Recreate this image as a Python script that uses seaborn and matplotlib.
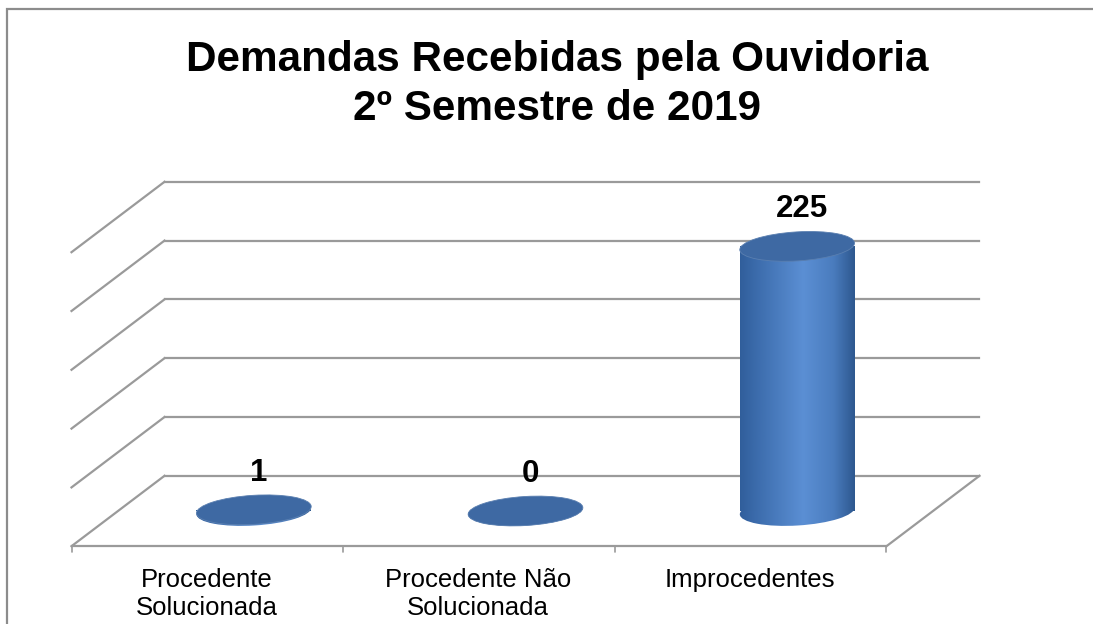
import numpy as np
import pandas as pd
import matplotlib
matplotlib.use("Agg")
import matplotlib.pyplot as plt
import matplotlib.transforms as mtransforms
from matplotlib.colors import LinearSegmentedColormap
from matplotlib.patches import Ellipse, Rectangle
import seaborn as sns

# data
categories = ["Procedente\nSolucionada", "Procedente Não\nSolucionada", "Improcedentes"]
values = [1, 0, 225]
value_labels = ["1", "0", "225"]
grid_values = [0, 50, 100, 150, 200, 250]
title = "Demandas Recebidas pela Ouvidoria\n2º Semestre de 2019"

W, H, DPI = 1093, 624, 100
DX, DY = 46.5, 35.2          # half depth of the 3d box, pixels
bar_width = 0.423
ell_h = 29                   # ellipse height, pixels
tilt = 3.5
grid_color = "#9a9a9a"

sns.set_theme(style="white")
plt.rcParams["font.family"] = ["Liberation Sans", "DejaVu Sans"]
plt.rcParams["text.color"] = "black"

fig = plt.figure(figsize=(W / DPI, H / DPI), dpi=DPI)
fig.patch.set_facecolor("white")

# chart frame (only top and left edges are inside the picture)
fig.add_artist(Rectangle((7 / W, -0.05), 1.1, (H - 9) / H + 0.05, transform=fig.transFigure,
                         fill=False, edgecolor="#8c8c8c", lw=1.6))

fig.text(557 / W, (H - 40) / H, title, ha="center", va="top", fontsize=30.4,
         fontweight="bold", linespacing=1.3, color="black")

# axes = middle depth plane of the 3d box
y_lo = -30
ppu = 294 / 250
ax = fig.add_axes([118 / W, (H - 511 - 30 * ppu) / H, 815 / W, (294 + 30 * ppu) / H])

df = pd.DataFrame({"categoria": categories, "demandas": values})
sns.barplot(data=df, x="categoria", y="demandas", width=bar_width, color="#3d6aa8",
            ax=ax, zorder=3)
ax.set_xlim(-0.5, 2.5)
ax.set_ylim(y_lo, 250)
ax.axis("off")

back = ax.transData + mtransforms.ScaledTranslation(DX / DPI, DY / DPI, fig.dpi_scale_trans)
front = ax.transData + mtransforms.ScaledTranslation(-DX / DPI, -DY / DPI, fig.dpi_scale_trans)
ident = mtransforms.IdentityTransform()

grid_kw = dict(color=grid_color, lw=1.6, clip_on=False, zorder=1, solid_capstyle="projecting")
for v in grid_values:
    ax.plot([-0.5, 2.5], [v, v], transform=back, **grid_kw)
    p0 = front.transform((-0.5, v))
    p1 = back.transform((-0.5, v))
    ax.plot([p0[0], p1[0]], [p0[1], p1[1]], transform=ident, **grid_kw)

# floor
ax.plot([-0.5, 2.5], [0, 0], transform=front, **grid_kw)
p0 = front.transform((2.5, 0))
p1 = back.transform((2.5, 0))
ax.plot([p0[0], p1[0]], [p0[1], p1[1]], transform=ident, **grid_kw)
for xb in [-0.5, 0.5, 1.5, 2.5]:
    p = front.transform((xb, 0))
    ax.plot([p[0], p[0]], [p[1], p[1] - 6], transform=ident, color=grid_color, lw=1.2,
            clip_on=False, zorder=1)

# cylinders
body_cmap = LinearSegmentedColormap.from_list(
    "body", [(0, "#2f5c99"), (0.15, "#3b6bab"), (0.55, "#5b8fd4"), (0.8, "#4a7cbe"), (1, "#2a5389")])
grad = np.linspace(0, 1, 256).reshape(1, -1)
px_w = ax.transData.transform((bar_width, 0))[0] - ax.transData.transform((0, 0))[0]


def ellipse_at(x, v, **kw):
    off = mtransforms.ScaledTranslation(x, v, ax.transData)
    return Ellipse((0, 0), px_w / DPI, ell_h / DPI, angle=tilt,
                   transform=fig.dpi_scale_trans + off, **kw)


for bar, v in zip(ax.patches, values):
    bar.set_facecolor("none")
    bar.set_edgecolor("none")
    xc = bar.get_x() + bar.get_width() / 2
    x0, x1 = bar.get_x() - 0.01, bar.get_x() + bar.get_width() + 0.01

    bottom = ellipse_at(xc, 0, facecolor="none", edgecolor="none")
    im = ax.imshow(grad, cmap=body_cmap, extent=(x0, x1, y_lo, max(v, 1)), aspect="auto",
                   origin="lower", interpolation="bicubic", zorder=3)
    im.set_clip_path(bottom)
    im2 = ax.imshow(grad, cmap=body_cmap, extent=(x0, x1, y_lo, max(v, 1)), aspect="auto",
                    origin="lower", interpolation="bicubic", zorder=3.1)
    im2.set_clip_path(bar)

    ax.add_patch(ellipse_at(xc, v, facecolor="#3e69a3", edgecolor="#5a7fb0", lw=0.6, zorder=4))

ax.set_xlim(-0.5, 2.5)
ax.set_ylim(y_lo, 250)

for i, (v, lab) in enumerate(zip(values, value_labels)):
    ax.annotate(lab, (i, v), xytext=(5, 37), textcoords="offset pixels", ha="center",
                va="center", fontsize=22.5, fontweight="bold", color="black", zorder=6)

for i, cat in enumerate(categories):
    ax.annotate(cat, (i, 0), xycoords=front, xytext=(-1, -22), textcoords="offset pixels",
                ha="center", va="top", fontsize=18.5, linespacing=1.2, color="black",
                annotation_clip=False)

fig.savefig("out.png", dpi=DPI, facecolor="white")
